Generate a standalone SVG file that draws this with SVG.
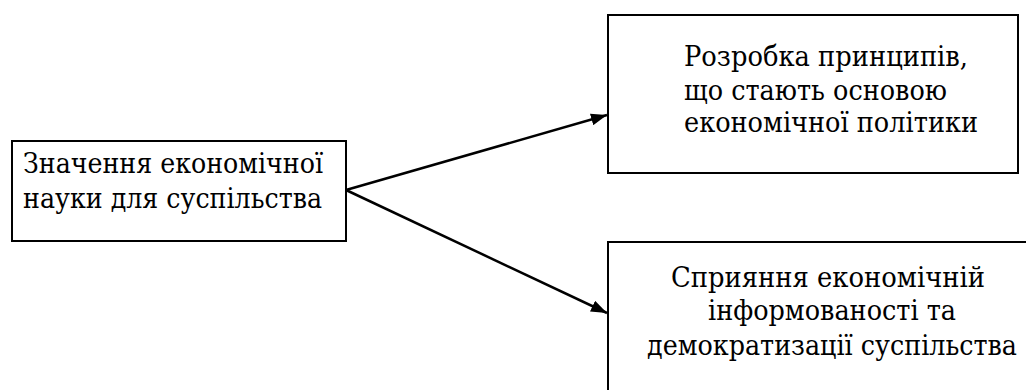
<svg xmlns="http://www.w3.org/2000/svg" width="1026" height="390" viewBox="0 0 1026 390">
<style>
.box{fill:#fff;stroke:#000;stroke-width:2}
.t{font-family:"DejaVu Serif","Liberation Serif",serif;font-size:27px;fill:#000}
.c{text-anchor:middle}
.conn{stroke:#000;stroke-width:2.5;fill:none}
</style>
<defs>
<marker id="ah" viewBox="0 0 16 12" refX="16" refY="6" markerWidth="16" markerHeight="12" markerUnits="userSpaceOnUse" orient="auto">
<path d="M0,0 L16,6 L0,12 Z" fill="#000"/>
</marker>
</defs>
<rect width="1026" height="390" fill="#fff"/>
<g id="connectors">
<line class="conn" x1="346" y1="190" x2="607" y2="115" marker-end="url(#ah)"/>
<line class="conn" x1="346" y1="190" x2="607" y2="313" marker-end="url(#ah)"/>
</g>
<g id="node-main">
<rect class="box" x="12" y="141" width="334" height="100"/>
<text class="t" x="23" y="173" textLength="300" lengthAdjust="spacingAndGlyphs">Значення економічної</text>
<text class="t" x="23" y="208" textLength="299" lengthAdjust="spacingAndGlyphs">науки для суспільства</text>
</g>
<g id="node-principles">
<rect class="box" x="608" y="15" width="410" height="158"/>
<text class="t" x="684" y="66" textLength="284" lengthAdjust="spacingAndGlyphs">Розробка принципів,</text>
<text class="t" x="684" y="100" textLength="263" lengthAdjust="spacingAndGlyphs">що стають основою</text>
<text class="t" x="684" y="132" textLength="294" lengthAdjust="spacingAndGlyphs">економічної політики</text>
</g>
<g id="node-info">
<rect class="box" x="608" y="242" width="430" height="160"/>
<text class="t" x="671" y="287" textLength="314" lengthAdjust="spacingAndGlyphs">Сприяння економічній</text>
<text class="t" x="708" y="320" textLength="248" lengthAdjust="spacingAndGlyphs">інформованості та</text>
<text class="t" x="647" y="355" textLength="370" lengthAdjust="spacingAndGlyphs">демократизації суспільства</text>
</g>
</svg>
